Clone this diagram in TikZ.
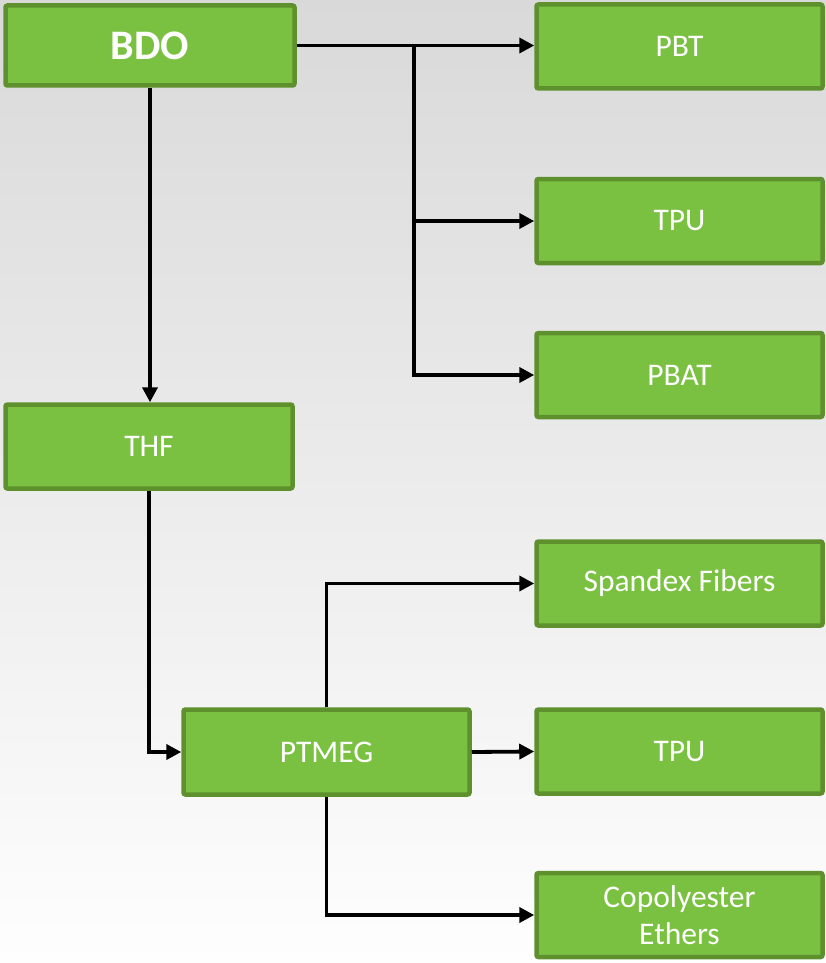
\documentclass[tikz,border=0pt]{standalone}
\usepackage{fontspec}
\setmainfont{Carlito}
\usetikzlibrary{arrows.meta,calc}
\definecolor{boxfill}{RGB}{122,193,66}
\definecolor{boxline}{RGB}{94,145,46}
\definecolor{bgtop}{RGB}{217,217,217}
\definecolor{bgbottom}{RGB}{254,254,254}
\tikzset{
  pbox/.style={draw=boxline, fill=boxfill, line width=4.5pt, rounded corners=2pt,
    inner sep=0pt, text=white, align=center,
    font=\fontsize{31.5}{37}\selectfont},
  sidebox/.style={pbox, minimum width=286pt, minimum height=84pt},
  link/.style={line width=3.8pt, -{Triangle[length=15pt,width=15pt]}}
}
\begin{document}
\begin{tikzpicture}[x=1pt,y=-1pt]
  % backdrop
  \shade[top color=bgtop, bottom color=bgbottom] (0,0) rectangle (826,963);
  \useasboundingbox (0,0) rectangle (826,963);

  % left column
  \node[pbox, minimum width=289pt, minimum height=80pt,
        font=\bfseries\fontsize{42}{48}\selectfont] (bdo) at (150,45.5) {BDO};
  \node[pbox, minimum width=287pt, minimum height=84pt] (thf) at (149,446.5) {THF};
  \node[pbox, minimum width=286pt, minimum height=85pt] (ptmeg) at (326.5,752) {PTMEG};

  % right column
  \node[sidebox] (pbt)  at (679.5,46.5)  {PBT};
  \node[sidebox] (tpua) at (679.5,221)   {TPU};
  \node[sidebox] (pbat) at (679.5,375)   {PBAT};
  \node[sidebox] (spandex) at (679.5,583.5) {Spandex Fibers};
  \node[sidebox] (tpub) at (679.5,751.5) {TPU};
  \node[sidebox] (copo) at (679.5,915)   {Copolyester\\Ethers};

  % BDO branches
  \coordinate (split) at ($(bdo.east)+(117,0)$);
  \draw[link] (bdo.east) -- (bdo.east -| pbt.west);
  \draw[link] (split) |- (tpua.west);
  \draw[link] (split) |- (pbat.west);
  \draw[link] (bdo.south) -- (bdo.south |- thf.north);

  % THF to PTMEG
  \draw[link] (thf.south) |- (ptmeg.west);

  % PTMEG branches
  \draw[link] (ptmeg.north) |- (spandex.west);
  \draw[link] (ptmeg.east) -- (tpub.west);
  \draw[link] (ptmeg.south) |- (copo.west);
\end{tikzpicture}
\end{document}
